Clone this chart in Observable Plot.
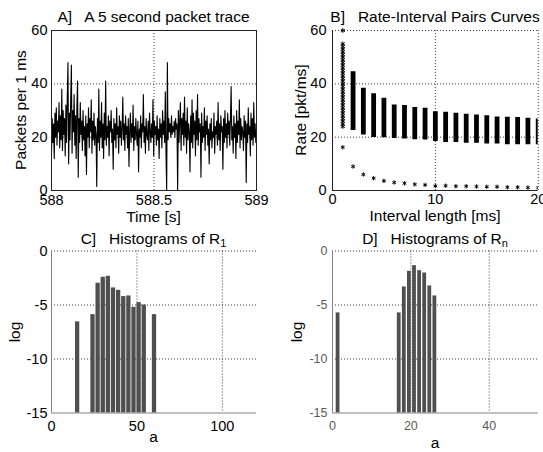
<!DOCTYPE html>
<html><head><meta charset="utf-8">
<script src="https://cdn.jsdelivr.net/npm/d3@7"></script>
<script src="https://cdn.jsdelivr.net/npm/@observablehq/plot@0.6"></script>
<style>
html,body{margin:0;padding:0;background:#fff;}
#fig{position:relative;width:543px;height:452px;overflow:hidden;font-family:"Liberation Sans",Arial,sans-serif;color:#000;}
.t{position:absolute;white-space:pre;font-size:15.5px;line-height:16px;height:16px;transform:translateX(-50%);}
.t sub{font-size:11px;line-height:0;vertical-align:-3px;}
.yl{position:absolute;white-space:pre;font-size:15.5px;line-height:16px;height:16px;transform:translate(-50%,-50%) rotate(-90deg);}
.p{position:absolute;}
</style></head><body><div id="fig"></div>
<script>
// ---------- Panel A: packet trace (packets per 1 ms) ----------
const traceStart = 588, traceEnd = 589;
const packets = [
14,27,18,25,12,29,20,31,17,26,22,33,16,28,19,38,15,30,21,27,
13,32,18,35,48,10,29,19,34,47,14,30,22,36,17,28,12,31,41,5,
27,18,33,21,26,15,30,19,24,13,28,6,25,20,31,16,27,22,34,14,
26,19,29,17,24,21,1.5,27,18,38,15,26,20,33,16,25,12,29,19,41,
17,24,20,28,13,26,22,30,18,23,8,27,19,25,16,31,21,24,14,28,
20,26,17,23,35,19,25,15,28,21,24,16,27,9,22,29,18,25,20,32,
15,24,19,27,21,17,26,7,23,20,28,16,25,22,36,18,24,14,27,21,
19,26,15,29,22,18,25,20,34,13,26,21,24,17,28,19,23,12,27,20,
25,16,30,21,26,18,37,14,0,48,19,27,22,25,20,28,21,24,22,26,
20,27,23,25,0,30,18,26,33,15,27,21,29,17,35,20,26,14,31,19,
25,22,7,28,18,34,16,29,21,26,13,30,19,36,17,27,22,25,5,29,
18,24,20,31,15,26,21,28,17,23,10,25,19,27,16,22,20,29,14,24,
21,26,17,33,19,25,15,28,22,24,8,27,18,30,20,25,16,29,21,26,
17,27,39,19,24,14,28,20,25,12,30,18,26,21,34,16,27,19,24,22,
15,28,20,26,3,25,18,31,21,24,13,29,19,27,17,33,20,25,18,22
];
const aTicksX = [588, 588.5, 589];
const aTicksY = [0, 20, 40, 60];
const aGridX = [588.5];
const aGridY = [20, 40];

// ---------- Panel B: rate-interval pairs ----------
const intervals = [1,2,3,4,5,6,7,8,9,10,11,12,13,14,15,16,17,18,19,20];
const rateTop    = [60,44.5,38.3,36.3,34.6,32.1,31.9,31.1,30.8,29.5,29.3,29.0,28.6,28.3,28.0,27.6,27.5,27.4,27.1,26.8];
const rateBottom = [24,22.5,20.8,19.9,19.8,19.5,19.3,19.0,18.9,18.4,18.0,18.0,17.7,17.7,17.4,17.4,17.2,17.2,17.2,17.2];
const rateLowest = [16.2,9.0,6.0,4.6,3.6,3.0,2.7,2.3,2.1,1.7,1.8,1.6,1.6,1.5,1.4,1.4,1.2,1.2,1.1,1.0];
const rates1ms = [60,55,54,53,52,51,50,49,48,47,46,45,44,43,42,41,40,39,38,37,36,35,34,33,32,31,30,29,28,27,26,25,24];
const bTicksX = [0, 10, 20];
const bTicksY = [0, 20, 40, 60];
const bGridX = [10, 20];
const bGridY = [20, 40, 60];

// ---------- Panel C: histogram of R1 ----------
const r1Bins = [15,24,27,30,33,36,39,42,45,48,51,54,60];
const r1Log  = [-6.56,-5.89,-2.99,-2.44,-2.34,-3.42,-3.64,-4.22,-4.16,-5.21,-4.78,-5.0,-5.89];
const cTicksX = [0, 50, 100];
const cTicksY = [0, -5, -10, -15];
const cGridX = [50, 100];
const cGridY = [0, -5, -10];

// ---------- Panel D: histogram of Rn ----------
const rnBins = [1.3,16.9,18.2,19.5,20.8,22.1,23.4,24.7,26.0];
const rnLog  = [-5.73,-5.73,-3.33,-1.88,-1.36,-1.82,-2.04,-3.24,-4.16];
const dTicksX = [0, 20, 40];
const dTicksY = [0, -5, -10, -15];
const dGridX = [20, 40];
const dGridY = [0, -5, -10];

const FONT = '"Liberation Sans", Arial, sans-serif';
const fig = document.getElementById("fig");
const fmt = d => String(d);
const dotted = {stroke: "#000", strokeOpacity: 0.75, strokeDasharray: "1,2"};

function place(el, left, top) {
  const d = document.createElement("div");
  d.className = "p"; d.style.left = left + "px"; d.style.top = top + "px";
  d.appendChild(el); fig.appendChild(d);
}
function text(cls, html, x, y) {
  const d = document.createElement("div");
  d.className = cls; d.innerHTML = html;
  d.style.left = x + "px";
  d.style.top = (cls === "t" ? y - 8 : y) + "px";
  fig.appendChild(d);
}

// Panel A
const traceStep = (traceEnd - traceStart) / (packets.length - 1);
place(Plot.plot({
  width: 272, height: 226,
  marginLeft: 51, marginRight: 16, marginTop: 30, marginBottom: 36,
  style: {fontFamily: FONT, fontSize: "14.5px", color: "#000", background: "transparent", overflow: "visible"},
  x: {domain: [traceStart, traceEnd]},
  y: {domain: [0, 60]},
  marks: [
    Plot.ruleY(aGridY, dotted),
    Plot.ruleX(aGridX, dotted),
    Plot.lineY(packets, {x: (d, i) => traceStart + i * traceStep, y: d => d, stroke: "#000", strokeWidth: 1.1, clip: true}),
    Plot.frame({stroke: "#222"}),
    Plot.axisY(aTicksY, {tickSize: 0, tickPadding: 4, tickFormat: fmt, label: null}),
    Plot.axisX(aTicksX, {tickSize: 0, tickPadding: 4, tickFormat: fmt, label: null})
  ]
}), 0, 0);

// Panel B
const colData = intervals.map((n, i) => ({n, top: rateTop[i], bottom: rateBottom[i], low: rateLowest[i]}));
place(Plot.plot({
  width: 271, height: 226,
  marginLeft: 60, marginRight: 5.3, marginTop: 30, marginBottom: 36,
  style: {fontFamily: FONT, fontSize: "14.5px", color: "#000", background: "transparent", overflow: "visible"},
  x: {domain: [0, 20]},
  y: {domain: [0, 60]},
  marks: [
    Plot.ruleY(bGridY, dotted),
    Plot.ruleX(bGridX, dotted),
    Plot.ruleX(colData.filter(d => d.n > 1), {x: "n", y1: "bottom", y2: "top", stroke: "#000", strokeWidth: 4.8, clip: true}),
    Plot.dot(rates1ms, {x: intervals[0], y: d => d, symbol: "asterisk", r: 2.2, stroke: "#000", strokeWidth: 1}),
    Plot.dot(colData, {x: "n", y: "low", symbol: "asterisk", r: 2, stroke: "#000", strokeWidth: 1, clip: true}),
    Plot.ruleX([0], {stroke: "#222"}),
    Plot.ruleY([0], {stroke: "#222"}),
    Plot.axisY(bTicksY, {tickSize: 0, tickPadding: 6, tickFormat: fmt, label: null}),
    Plot.axisX(bTicksX, {tickSize: 0, tickPadding: 3, tickFormat: fmt, label: null})
  ]
}), 272, 0);

// Panel C
const r1Data = r1Bins.map((a, i) => ({a, v: r1Log[i]}));
place(Plot.plot({
  width: 272, height: 226,
  marginLeft: 51, marginRight: 16, marginTop: 24.5, marginBottom: 39.5,
  style: {fontFamily: FONT, fontSize: "14.5px", color: "#000", background: "transparent", overflow: "visible"},
  x: {domain: [0, 120]},
  y: {domain: [-15, 0]},
  marks: [
    Plot.ruleY(cGridY, dotted),
    Plot.ruleX(cGridX, dotted),
    Plot.ruleX(r1Data, {x: "a", y1: -15, y2: "v", stroke: "#4f4f4f", strokeWidth: 4.3}),
    Plot.ruleX([0], {stroke: "#808080"}),
    Plot.ruleY([-15], {stroke: "#808080"}),
    Plot.axisY(cTicksY, {tickSize: 0, tickPadding: 4, tickFormat: fmt, label: null}),
    Plot.axisX(cTicksX, {tickSize: 0, tickPadding: 8, tickFormat: fmt, label: null})
  ]
}), 0, 226);

// Panel D
const rnData = rnBins.map((a, i) => ({a, v: rnLog[i]}));
place(Plot.plot({
  width: 271, height: 226,
  marginLeft: 60, marginRight: 5.3, marginTop: 24.5, marginBottom: 39.5,
  style: {fontFamily: FONT, fontSize: "12.5px", color: "#5a5a5a", background: "transparent", overflow: "visible"},
  x: {domain: [0, 52.5]},
  y: {domain: [-15, 0]},
  marks: [
    Plot.ruleY(dGridY, dotted),
    Plot.ruleX(dGridX, dotted),
    Plot.ruleX(rnData, {x: "a", y1: -15, y2: "v", stroke: "#4f4f4f", strokeWidth: 3.8}),
    Plot.ruleX([0], {stroke: "#808080"}),
    Plot.ruleY([-15], {stroke: "#808080"}),
    Plot.axisY(dTicksY, {tickSize: 0, tickPadding: 5, tickFormat: fmt, label: null}),
    Plot.axisX(dTicksX, {tickSize: 0, tickPadding: 8, tickFormat: fmt, label: null})
  ]
}), 272, 226);

// Titles and axis labels
text("t", "A]   A 5 second packet trace", 153.5, 16.5);
text("t", "B]   Rate-Interval Pairs Curves", 435, 16.5);
text("t", "C]   Histograms of R<sub>1</sub>", 153.5, 239);
text("t", "D]   Histograms of R<sub>n</sub>", 435, 239);
text("t", "Time [s]", 153.5, 217);
text("t", "Interval length [ms]", 435, 216);
text("t", "a", 153.5, 437);
text("t", "a", 435, 443);
text("yl", "Packets per 1 ms", 21, 110);
text("yl", "Rate [pkt/ms]", 301, 110);
text("yl", "log", 15, 332);
text("yl", "log", 297, 332);
</script></body></html>
